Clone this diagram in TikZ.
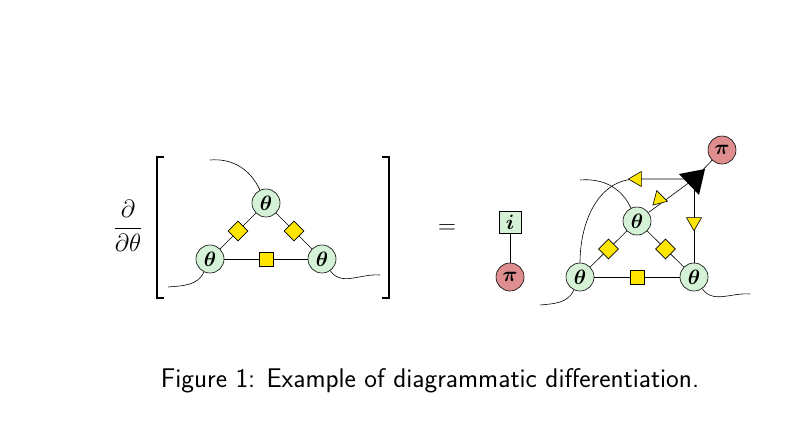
\documentclass[tikz,border=0pt]{standalone}
\usepackage{amsmath, amssymb, bm}
\usetikzlibrary{shapes.geometric, positioning, arrows.meta}
\definecolor{ThetaGreen}{HTML}{D6F2D6}
\definecolor{PiRed}{HTML}{DE8E8E}
\definecolor{DiagYellow}{HTML}{FFE600}
\tikzset{
  param/.style={circle, draw, fill=ThetaGreen, minimum size=28pt, inner sep=0pt, font=\fontsize{22}{24}\selectfont},
  prob/.style={circle, draw, fill=PiRed, minimum size=28pt, inner sep=0pt, font=\fontsize{22}{24}\selectfont},
  idx/.style={rectangle, draw, fill=ThetaGreen, minimum size=22pt, inner sep=0pt, font=\fontsize{22}{24}\selectfont},
  diam/.style={diamond, draw, fill=DiagYellow, minimum size=20pt, inner sep=0pt},
  sq/.style={rectangle, draw, fill=DiagYellow, minimum size=14pt, inner sep=0pt},
  tri/.style={isosceles triangle, isosceles triangle apex angle=60, draw, fill=DiagYellow, minimum size=13pt, inner sep=0pt},
}
\begin{document}
\begin{tikzpicture}[x=1pt, y=-1pt, line width=0.6pt]
                \useasboundingbox (0,0) rectangle (808,434);
                % Left: derivative of the triangle
                \node[font=\fontsize{34}{38}\selectfont] (dd) at (128,226) {$\dfrac{\partial}{\partial\theta}$};
                \draw[line width=1.6pt] (164,157) -- (157,157) -- (157,298) -- (164,298);
                \draw[line width=1.6pt] (382,157) -- (389,157) -- (389,298) -- (382,298);
                \node[param] (lt) at (266,203) {$\bm{\theta}$};
                \node[param] (ll) at (210,259) {$\bm{\theta}$};
                \node[param] (lr) at (322,259) {$\bm{\theta}$};
                \draw (lt) -- node[diam] (ld1) {} (ll);
                \draw (lt) -- node[diam] (ld2) {} (lr);
                \draw (ll) -- node[sq] (ls) {} (lr);
                \coordinate (la) at (210,160);
                \coordinate (lb) at (168,287);
                \coordinate (lc) at (380,275);
                \draw (la) to[out=5, in=115] (lt);
                \draw (ll) to[out=-115, in=5] (lb);
                \draw (lr) to[out=-55, in=175] (lc);
                % Equals
                \node[font=\fontsize{28}{32}\selectfont] (eq) at (447,229) {$=$};
                \node[idx] (ii) at (510,222) {$\bm{i}$};
                \node[prob] (pi1) at (510,277) {$\bm{\pi}$};
                \draw (ii) -- (pi1);
                % Right: the differentiated diagram
                \node[param] (rt) at (637,221) {$\bm{\theta}$};
                \node[param] (rl) at (580,277) {$\bm{\theta}$};
                \node[param] (rr) at (694,277) {$\bm{\theta}$};
                \node[prob] (pi2) at (722,150) {$\bm{\pi}$};
                \coordinate (bt) at (694,179);
                \coordinate (tc) at (637,179);
                \draw (rt) -- node[diam] (rd1) {} (rl);
                \draw (rt) -- node[diam] (rd2) {} (rr);
                \draw (rl) -- node[sq] (rs) {} (rr);
                \draw (bt) -- (pi2);
                \draw (bt) -- (tc) to[out=180, in=90] (rl);
                \draw (bt) -- (rt);
                \draw (bt) -- (rr);
                \node[tri, rotate=180] (y1) at (637,179) {};
                \node[tri, rotate=225] (y2) at (659,199) {};
                \node[tri, rotate=-90] (y3) at (694,222) {};
                \fill (679,174) -- (705,169) -- (699,195) -- cycle;
                \coordinate (ra) at (580,180);
                \coordinate (rb) at (540,305);
                \coordinate (rc) at (750,294);
                \draw (ra) to[out=5, in=115] (rt);
                \draw (rl) to[out=-115, in=5] (rb);
                \draw (rr) to[out=-55, in=175] (rc);
                % Caption
                \node[font=\sffamily\fontsize{27}{32}\selectfont] (cap) at (430,381) {Figure 1: Example of diagrammatic differentiation.};
\end{tikzpicture}
\end{document}
